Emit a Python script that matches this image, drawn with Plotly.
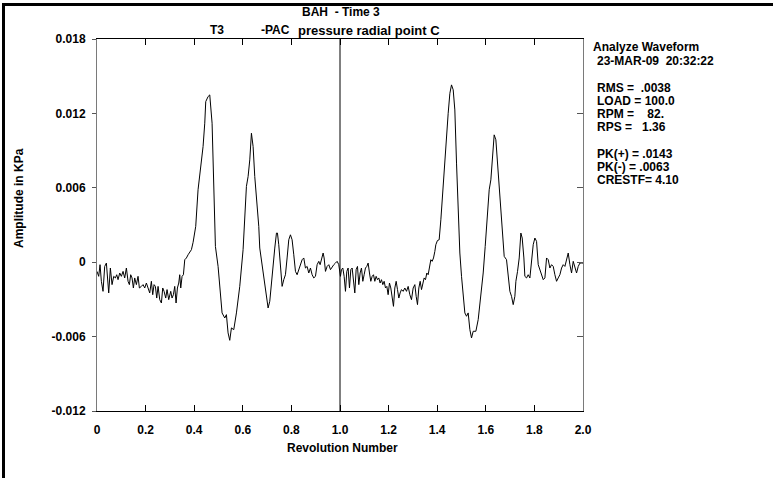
import plotly.graph_objects as go

# Waveform samples: revolution number and amplitude (KPa)
revolution = [
    0.000, 0.007, 0.0125, 0.018, 0.0248, 0.0317, 0.0386, 0.0427, 0.0482, 0.055,
    0.0619, 0.0688, 0.0756, 0.0811, 0.0866, 0.0935, 0.1003, 0.1072, 0.114, 0.1209,
    0.1278, 0.1333, 0.1387, 0.1442, 0.1497, 0.1552, 0.1621, 0.1689, 0.1744, 0.1827,
    0.1895, 0.1964, 0.2032, 0.2101, 0.217, 0.2238, 0.2293, 0.2348, 0.2403, 0.2458,
    0.2513, 0.2581, 0.265, 0.2705, 0.276, 0.2828, 0.2883, 0.2952, 0.3034, 0.3089,
    0.3144, 0.3199, 0.3254, 0.3309, 0.3364, 0.3405, 0.3446, 0.3501, 0.3556, 0.3611,
    0.3679, 0.3748, 0.3816, 0.3885, 0.3954, 0.4063, 0.4159, 0.4269, 0.4365, 0.4434,
    0.4475, 0.4571, 0.464, 0.4736, 0.4804, 0.4873, 0.4983, 0.5079, 0.5147, 0.5257,
    0.5326, 0.5394, 0.5463, 0.5532, 0.5628, 0.5738, 0.5875, 0.6012, 0.6081, 0.6149,
    0.6218, 0.6287, 0.6355, 0.6424, 0.6492, 0.6561, 0.6657, 0.6698, 0.6794, 0.6904,
    0.6973, 0.7041, 0.711, 0.7179, 0.7247, 0.7316, 0.7385, 0.7426, 0.748, 0.7549,
    0.7618, 0.7686, 0.7755, 0.7823, 0.7892, 0.7961, 0.8029, 0.8098, 0.8167, 0.8235,
    0.8304, 0.8373, 0.8441, 0.851, 0.8578, 0.8647, 0.8715, 0.8784, 0.8853, 0.8921,
    0.899, 0.9058, 0.9127, 0.9182, 0.9237, 0.9306, 0.9347, 0.9402, 0.947, 0.9539,
    0.9608, 0.9676, 0.9745, 0.9813, 0.9882, 0.995,
    1.0019, 1.006, 1.0115, 1.017, 1.0225, 1.028, 1.0335, 1.039, 1.0445, 1.05,
    1.0555, 1.0609, 1.0664, 1.0719, 1.0774, 1.0829, 1.0884, 1.0939, 1.0993, 1.1048,
    1.1103, 1.1158, 1.1213, 1.1268, 1.1323, 1.1378, 1.1433, 1.1487, 1.1542, 1.1597,
    1.1652, 1.1707, 1.1762, 1.1817, 1.1872, 1.1927, 1.1981, 1.2036, 1.2091, 1.2146,
    1.2201, 1.2256, 1.2311, 1.2366, 1.2421, 1.2475, 1.253, 1.2599, 1.2668, 1.2737,
    1.2805, 1.2874, 1.2942, 1.3011, 1.308, 1.3134, 1.3189, 1.3244, 1.3299, 1.3354,
    1.3409, 1.3463, 1.3518, 1.3573, 1.3628, 1.3683, 1.3738, 1.3793, 1.3848, 1.3903,
    1.3944, 1.401, 1.4081, 1.415, 1.4219, 1.4315, 1.4383, 1.4452, 1.4521, 1.4589,
    1.4658, 1.4726, 1.4795, 1.4863, 1.4932, 1.5001, 1.5069, 1.5138, 1.5207, 1.5275,
    1.5344, 1.5412, 1.5481, 1.5591, 1.5687, 1.5783, 1.5893, 1.5975, 1.6057, 1.614,
    1.6208, 1.6277, 1.6345, 1.6414, 1.6483, 1.6551, 1.662, 1.6685, 1.6757, 1.6853,
    1.6922, 1.6991, 1.7059, 1.7128, 1.7196, 1.7238, 1.7306, 1.7375, 1.7443, 1.7498,
    1.7567, 1.7608, 1.7677, 1.7745, 1.7814, 1.7883, 1.7951, 1.802, 1.8089, 1.8157,
    1.8226, 1.8294, 1.8363, 1.8432, 1.85, 1.8569, 1.8637, 1.8706, 1.8775, 1.8843,
    1.8912, 1.898, 1.9049, 1.9118, 1.9186, 1.9255, 1.9324, 1.9392, 1.9461, 1.9529,
    1.9598, 1.9667, 1.9735, 1.9804, 1.9873, 1.9941, 2.0,
]

amplitude_kpa = [
    -0.00074, -0.00114, -0.0002, -0.00154, -0.00235, -0.00034, -0.00007, -0.00101, -0.00248, -0.00047,
    -0.00181, -0.00114, -0.00127, -0.00101, -0.00141, -0.00087, -0.00114, -0.00074, -0.00127, -0.00047,
    -0.00154, -0.00181, -0.00101, -0.00127, -0.00208, -0.00127, -0.00181, -0.00114, -0.00208, -0.00195,
    -0.00181, -0.00208, -0.00168, -0.00208, -0.00248, -0.00154, -0.00262, -0.00181, -0.00195, -0.00289,
    -0.00195, -0.00302, -0.00329, -0.00208, -0.00235, -0.00289, -0.00221, -0.00302, -0.00235, -0.00289,
    -0.00262, -0.00195, -0.00329, -0.00208, -0.00168, -0.00101, -0.00208, -0.00114, -0.00101, 0.0002,
    0.00034, 0.0006, 0.00087, 0.00101, 0.0016, 0.00289, 0.00584, 0.00758, 0.00933, 0.01121,
    0.01295, 0.01336, 0.01349, 0.01121, 0.00664, 0.00127, -0.00034, -0.00248, -0.00409, -0.0045,
    -0.00423, -0.0057, -0.0063, -0.0053, -0.00544, -0.00409, -0.00195, 0.00101, 0.00315, 0.00611,
    0.00691, 0.00825, 0.0104, 0.00933, 0.00691, 0.0053, 0.00289, 0.00114, -0.0002, -0.00154,
    -0.00262, -0.00369, -0.00315, -0.00154, 0.00007, 0.00114, 0.00235, 0.00235, 0.00141, -0.00047,
    -0.00195, -0.00141, -0.00101, 0.00034, 0.00181, 0.00221, 0.00181, 0.0006, -0.00074, -0.00101,
    -0.0006, -0.00034, 0.0002, 0.00034, -0.00047, -0.00034, -0.00087, -0.00047, -0.00101, -0.00127,
    -0.00114, -0.0002, 0.00007, -0.0002, 0.00034, 0.00074, 0.00034, -0.00074, -0.00034, -0.0002,
    -0.0006, -0.00034, -0.0002, -0.00007, 0.00007, -0.0002,
    -0.00114, -0.0006, -0.00047, -0.00114, -0.00235, -0.00074, -0.00047, -0.00208, -0.0006, -0.00047,
    -0.00168, -0.00248, -0.0006, -0.00034, -0.00181, -0.00087, -0.00047, -0.00154, -0.00101, -0.00047,
    -0.00034, -0.00007, -0.00087, -0.00154, -0.00114, -0.00101, -0.00154, -0.00114, -0.00141, -0.00127,
    -0.00168, -0.00141, -0.00181, -0.00154, -0.00208, -0.00195, -0.00262, -0.00168, -0.00208, -0.00289,
    -0.00356, -0.00208, -0.00154, -0.00221, -0.00289, -0.00248, -0.00221, -0.00235, -0.00208, -0.00235,
    -0.00195, -0.00262, -0.00302, -0.00208, -0.00181, -0.00275, -0.00342, -0.00208, -0.00154, -0.00221,
    -0.00168, -0.00127, -0.00141, -0.00087, -0.00101, -0.0002, 0.0002, 0.00007, 0.00034, 0.00087,
    0.00141, 0.00175, 0.00181, 0.00342, 0.00557, 0.00799, 0.00987, 0.01201, 0.01362, 0.0143,
    0.0139, 0.01228, 0.00799, 0.00396, 0.00074, -0.00114, -0.00248, -0.00409, -0.00436, -0.00409,
    -0.00544, -0.00611, -0.00557, -0.00557, -0.00463, -0.00302, -0.00087, 0.00127, 0.00396, 0.00584,
    0.00664, 0.00825, 0.01027, 0.00987, 0.00799, 0.00584, 0.00423, 0.0022, 0.00047, 0.0002,
    -0.00127, -0.00235, -0.00275, -0.00342, -0.00275, -0.00154, -0.00074, 0.00034, 0.00235, 0.00195,
    0.00034, -0.00114, -0.00127, -0.00101, -0.00127, 0.00034, 0.00141, 0.00195, 0.00168, -0.0002,
    -0.0006, -0.00087, -0.00141, -0.00127, 0.00034, 0.0002, -0.00047, -0.0002, -0.00034, -0.00101,
    -0.00154, -0.00127, -0.00101, -0.00047, -0.0002, -0.00034, 0.00034, 0.00074, -0.0002, -0.00087,
    0.00007, -0.00047, -0.00087, -0.00034, -0.00007, -0.00007, -0.00007,
]

x_tick_values = [0, 0.2, 0.4, 0.6, 0.8, 1.0, 1.2, 1.4, 1.6, 1.8, 2.0]
x_tick_labels = ["0", "0.2", "0.4", "0.6", "0.8", "1.0", "1.2", "1.4", "1.6", "1.8", "2.0"]
y_tick_values = [-0.012, -0.006, 0, 0.006, 0.012, 0.018]
y_tick_labels = ["-0.012", "-0.006", "0", "0.006", "0.012", "0.018"]

title_line = "BAH  - Time 3"
subtitle_parts = ["T3", "-PAC", "pressure radial point C"]
x_title = "Revolution Number"
y_title = "Amplitude in KPa"
info_lines = [
    "Analyze Waveform",
    "23-MAR-09  20:32:22",
    "RMS =  .0038",
    "LOAD = 100.0",
    "RPM =    82.",
    "RPS =   1.36",
    "PK(+) = .0143",
    "PK(-) = .0063",
    "CRESTF= 4.10",
]

# canvas geometry (pixels)
W, H = 773, 478
L, R, T, B = 97, 190, 39, 67
PW, PH = W - L - R, H - T - B

def px(x):
    return (x - L) / PW

def py(y):
    return (H - B - y) / PH

FONT = "Liberation Sans, Arial, sans-serif"

def txt(s):
    return s.replace(" ", "\u00a0")

fig = go.Figure()
fig.add_trace(go.Scatter(
    x=revolution, y=amplitude_kpa, mode="lines",
    line=dict(color="black", width=1), hoverinfo="skip", showlegend=False,
))
fig.add_trace(go.Scatter(x=[], y=[], yaxis="y2", showlegend=False))

fig.update_layout(
    width=W, height=H,
    margin=dict(l=L, r=R, t=T, b=B, pad=0),
    paper_bgcolor="white", plot_bgcolor="white",
    font=dict(family=FONT, size=12, color="black", weight="bold"),
    showlegend=False,
    xaxis=dict(
        range=[0, 2], tickmode="array", tickvals=x_tick_values, ticktext=x_tick_labels,
        ticks="inside", ticklen=6, tickwidth=1, tickcolor="black",
        showline=True, linecolor="black", linewidth=1, mirror="ticks",
        showgrid=False, zeroline=False, ticklabelstandoff=8,
        tickfont=dict(family=FONT, size=12, weight="bold"),
    ),
    yaxis=dict(
        range=[-0.012, 0.018], tickmode="array", tickvals=y_tick_values, ticktext=y_tick_labels,
        ticks="outside", ticklen=4, tickwidth=1, tickcolor="#555555",
        showline=True, linecolor="#7a7a7a", linewidth=1,
        showgrid=False, zeroline=False, ticklabelstandoff=4,
        tickfont=dict(family=FONT, size=12, weight="bold"),
    ),
    yaxis2=dict(
        range=[-0.012, 0.018], overlaying="y", side="right", tickmode="array",
        tickvals=y_tick_values, showticklabels=False,
        ticks="inside", ticklen=6, tickwidth=1, tickcolor="#555555",
        showline=True, linecolor="#7a7a7a", linewidth=1,
        showgrid=False, zeroline=False,
    ),
)

fig.add_vline(x=1.0, line_color="black", line_width=1)

# outer frame on the left and top edges
fig.add_shape(type="line", xref="paper", yref="paper",
              x0=px(3.5), x1=px(3.5), y0=py(3), y1=py(H + 2),
              line=dict(color="black", width=3))
fig.add_shape(type="line", xref="paper", yref="paper",
              x0=px(2), x1=px(W + 2), y0=py(4.5), y1=py(4.5),
              line=dict(color="black", width=3))

def label(text, x, y, anchor="left", size=12, angle=0):
    fig.add_annotation(
        text=txt(text), xref="paper", yref="paper", x=px(x), y=py(y),
        xanchor=anchor, yanchor="middle", showarrow=False, textangle=angle,
        font=dict(family=FONT, size=size, color="black", weight="bold"),
    )

label(title_line, 341, 12, anchor="center")
label(subtitle_parts[0], 208, 30)
label(subtitle_parts[1], 259, 30)
label(subtitle_parts[2], 296, 30, size=13)

label(x_title, 342, 448, anchor="center")
label(y_title, 19, 198, anchor="center", angle=-90)

info_y = [47, 61, 88, 101, 114, 127, 154, 167, 180]
info_x = [591, 595, 595, 595, 595, 595, 595, 595, 595]
for s, x, y in zip(info_lines, info_x, info_y):
    label(s, x, y, size=12)

fig.write_html("out.html")
